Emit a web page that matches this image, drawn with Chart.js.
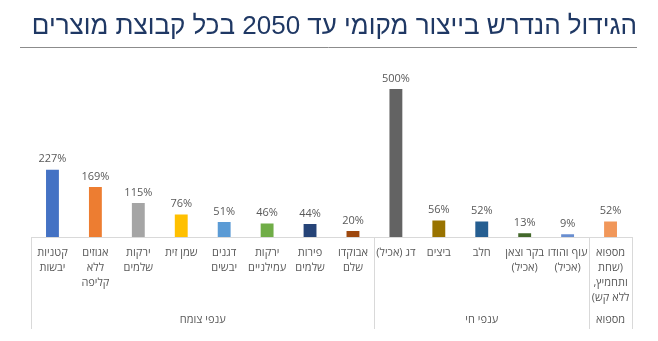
<!DOCTYPE html>
<html lang="he">
<head>
<meta charset="utf-8">
<script src="https://cdn.jsdelivr.net/npm/chart.js@4.4.1/dist/chart.umd.min.js"></script>
<style>
  html, body { margin: 0; padding: 0; background: #fff; }
  #wrap { width: 658px; height: 341px; position: relative; }
</style>
</head>
<body>
<div id="wrap"><canvas id="chart" dir="rtl"></canvas></div>
<script>
// categories (left to right, as in the picture)
const categories = [
    ["קטניות", "יבשות"],
    ["אגוזים", "ללא", "קליפה"],
    ["ירקות", "שלמים"],
    ["שמן זית"],
    ["דגנים", "יבשים"],
    ["ירקות", "עמילניים"],
    ["פירות", "שלמים"],
    ["אבוקדו", "שלם"],
    ["דג (אכיל)"],
    ["ביצים"],
    ["חלב"],
    ["בקר וצאן", "(אכיל)"],
    ["עוף והודו", "(אכיל)"],
    ["מספוא", "(שחת", "ותחמיץ,", "ללא קש)"]
];
const growthPct = [227, 169, 115, 76, 51, 46, 44, 20, 500, 56, 52, 13, 9, 52];
const barColors = ["#4472C4", "#ED7D31", "#A5A5A5", "#FFC000", "#5B9BD5", "#70AD47", "#264478",
    "#9E480E", "#636363", "#997300", "#255E91", "#43682B", "#698ED0", "#F1975A"];

// outer category groups: label + index range
const groupNames = ["ענפי צומח", "ענפי חי", "מספוא"];
const groupStarts = [0, 8, 13];
const groupEnds = [7, 12, 13];

const titleText = "הגידול הנדרש בייצור מקומי עד 2050 בכל קבוצת מוצרים";
const textGray = "#595959";
const labelFont = "'Open Sans', 'Liberation Sans', sans-serif";
const titleFont = "'Liberation Sans', 'DejaVu Sans', sans-serif";

// title text + underline
const titleBlock = {
    id: 'titleBlock',
    afterDraw(chart) {
        const ctx = chart.ctx;
        ctx.save();
        ctx.direction = 'rtl';
        ctx.fillStyle = '#1F3864';
        ctx.font = "26px " + titleFont;
        ctx.textAlign = 'right';
        ctx.textBaseline = 'alphabetic';
        ctx.fillText(titleText, 637, 34);
        ctx.strokeStyle = '#8c8c8c';
        ctx.lineWidth = 1;
        ctx.beginPath();
        ctx.moveTo(20, 47.5);
        ctx.lineTo(637, 47.5);
        ctx.stroke();
        ctx.restore();
    }
};

// value labels above bars
const valueLabels = {
    id: 'valueLabels',
    afterDatasetsDraw(chart) {
        const ctx = chart.ctx;
        const meta = chart.getDatasetMeta(0);
        ctx.save();
        ctx.direction = 'ltr';
        ctx.fillStyle = textGray;
        ctx.font = "11px " + labelFont;
        ctx.textAlign = 'center';
        ctx.textBaseline = 'bottom';
        meta.data.forEach((bar, i) => {
            ctx.fillText(growthPct[i] + '%', bar.x, bar.y - 5);
        });
        ctx.restore();
    }
};

// group separators + group names under the tick labels
const groupAxis = {
    id: 'groupAxis',
    afterDraw(chart) {
        const ctx = chart.ctx;
        const x = chart.scales.x;
        const area = chart.chartArea;
        const edge = (i) => {
            if (i <= 0) return area.left;
            if (i >= categories.length) return area.right;
            return (x.getPixelForValue(i - 1) + x.getPixelForValue(i)) / 2;
        };
        ctx.save();
        ctx.strokeStyle = '#d9d9d9';
        ctx.lineWidth = 1;
        const cuts = [0].concat(groupEnds.map(e => e + 1));
        cuts.forEach(c => {
            const px = Math.round(edge(c)) + 0.5;
            ctx.beginPath();
            ctx.moveTo(px, area.bottom);
            ctx.lineTo(px, 329);
            ctx.stroke();
        });
        ctx.fillStyle = textGray;
        ctx.font = "11px " + labelFont;
        ctx.textAlign = 'center';
        ctx.textBaseline = 'middle';
        groupNames.forEach((name, g) => {
            const mid = (edge(groupStarts[g]) + edge(groupEnds[g] + 1)) / 2;
            ctx.fillText(name, mid, 320);
        });
        ctx.restore();
    }
};

new Chart(document.getElementById('chart'), {
    type: 'bar',
    data: {
        labels: categories,
        datasets: [{
            data: growthPct,
            backgroundColor: barColors,
            borderWidth: 0,
            barPercentage: 0.6,
            categoryPercentage: 0.5
        }]
    },
    options: {
        responsive: true,
        maintainAspectRatio: false,
        animation: false,
        layout: { padding: { left: 31, right: 26, top: 59.4, bottom: 0 } },
        plugins: {
            legend: { display: false },
            tooltip: { enabled: false },
            title: { display: false }
        },
        scales: {
            y: {
                display: false,
                min: 0,
                max: 600
            },
            x: {
                grid: { display: false, drawTicks: false },
                border: { display: true, color: '#d9d9d9' },
                ticks: {
                    autoSkip: false,
                    maxRotation: 0,
                    minRotation: 0,
                    padding: 8,
                    color: textGray,
                    font: { family: labelFont, size: 11, lineHeight: 1.37 }
                },
                afterFit(scale) { scale.height = 104; }
            }
        }
    },
    plugins: [titleBlock, valueLabels, groupAxis]
});
</script>
</body>
</html>
